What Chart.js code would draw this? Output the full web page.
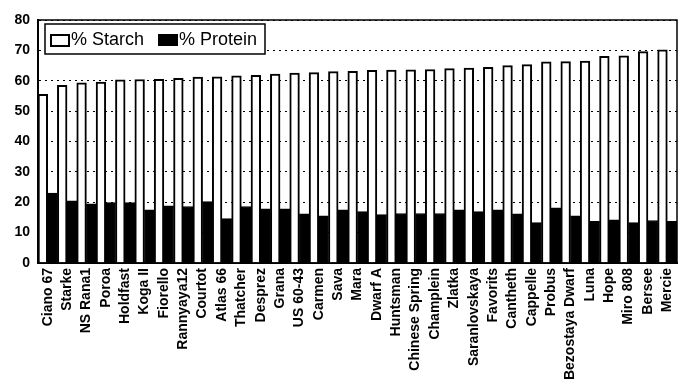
<!DOCTYPE html>
<html>
<head>
<meta charset="utf-8">
<script src="https://cdn.jsdelivr.net/npm/chart.js@4"></script>
<style>
  html, body { margin: 0; padding: 0; background: #fff; }
  #wrap { width: 691px; height: 382px; }
</style>
</head>
<body>
<div id="wrap"><canvas id="starchChart" width="691" height="382"></canvas></div>
<script>
// Wheat varieties, sorted by starch content
const varieties = [
    'Ciano 67', 'Starke', 'NS Rana1', 'Poroa', 'Holdfast', 'Koga II', 'Fiorello',
    'Rannyaya12', 'Courtot', 'Atlas 66', 'Thatcher', 'Desprez', 'Grana', 'US 60-43',
    'Carmen', 'Sava', 'Mara', 'Dwarf A', 'Huntsman', 'Chinese Spring', 'Champlein',
    'Zlatka', 'Saranlovskaya', 'Favorits', 'Cantheth', 'Cappelle', 'Probus',
    'Bezostaya Dwarf', 'Luna', 'Hope', 'Miro 808', 'Bersee', 'Mercie'
];
const starch = [
    55.5, 58.5, 59.3, 59.6, 60.3, 60.4, 60.5, 60.8, 61.2, 61.3, 61.6, 61.8, 62.2, 62.5,
    62.7, 63.0, 63.1, 63.4, 63.5, 63.6, 63.7, 64.0, 64.2, 64.4, 65.0, 65.3, 66.2,
    66.3, 66.5, 68.0, 68.2, 69.6, 70.2
];
const protein = [
    23.0, 20.5, 19.5, 19.9, 19.9, 17.5, 18.8, 18.6, 20.2, 14.6, 18.6, 17.8, 17.8, 16.2,
    15.5, 17.5, 16.9, 15.9, 16.3, 16.3, 16.3, 17.5, 16.9, 17.5, 16.2, 13.3, 18.2,
    15.5, 13.7, 14.2, 13.3, 14.0, 13.7
];
const yTicks = [0, 10, 20, 30, 40, 50, 60, 70, 80];

const FONT = "'Liberation Sans', Arial, sans-serif";

// frame around plot + boxed legend inside the plot area
const framePlugin = {
    id: 'frame',
    afterDraw(chart) {
        const { ctx, chartArea: a } = chart;
        ctx.save();
        ctx.strokeStyle = '#000';
        ctx.lineWidth = 1.5;
        ctx.strokeRect(a.left, a.top, a.right - a.left, a.bottom - a.top);

        // legend box
        ctx.fillStyle = '#fff';
        ctx.fillRect(45, 24, 220, 30);
        ctx.lineWidth = 1.5;
        ctx.strokeRect(45, 24, 220, 30);
        ctx.font = '18px ' + FONT;
        ctx.textBaseline = 'middle';
        ctx.fillStyle = '#000';
        ctx.lineWidth = 2;
        ctx.strokeRect(51, 35, 18, 11);
        ctx.fillText('% Starch', 71, 40);
        ctx.fillRect(158, 34, 20, 12);
        ctx.fillText('% Protein', 179, 40);
        ctx.restore();
    }
};

const ctx = document.getElementById('starchChart').getContext('2d');
const chart = new Chart(ctx, {
    type: 'bar',
    data: {
        labels: varieties,
        datasets: [
            {
                label: '% Starch',
                data: starch,
                backgroundColor: '#fff',
                borderColor: '#000',
                borderWidth: 2
            },
            {
                label: '% Protein',
                data: protein,
                backgroundColor: '#000',
                borderColor: '#000',
                borderWidth: 1
            }
        ]
    },
    options: {
        responsive: false,
        animation: false,
        layout: { padding: { top: 20, right: 14, left: 0, bottom: 0 } },
        plugins: {
            legend: { display: false },
            tooltip: { enabled: false }
        },
        datasets: {
            bar: { categoryPercentage: 1.0, barPercentage: 1.0 }
        },
        scales: {
            x: {
                grid: { display: false, drawTicks: false },
                border: { color: '#000', width: 2 },
                ticks: {
                    autoSkip: false,
                    minRotation: 90,
                    maxRotation: 90,
                    padding: 5,
                    color: '#000',
                    font: { family: FONT, size: 14, weight: 'bold' }
                },
                afterFit(scale) { scale.height = 119; }
            },
            y: {
                min: 0,
                max: 80,
                afterBuildTicks(scale) {
                    scale.ticks = yTicks.map(v => ({ value: v }));
                },
                grid: {
                    color: '#000',
                    lineWidth: 1,
                    drawTicks: false
                },
                border: { color: '#000', width: 2, dash: [2, 4] },
                ticks: {
                    padding: 8,
                    color: '#000',
                    font: { family: FONT, size: 14, weight: 'bold' }
                },
                afterFit(scale) { scale.width = 38; }
            }
        }
    },
    plugins: [framePlugin]
});
</script>
</body>
</html>
